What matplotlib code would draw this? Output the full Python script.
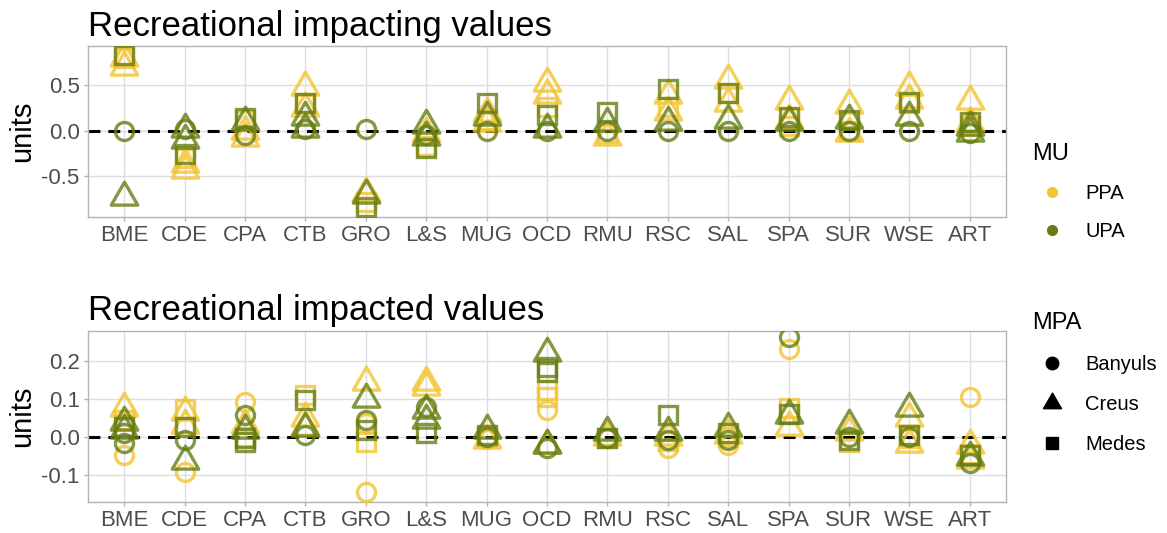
import numpy as np
import matplotlib
matplotlib.use("Agg")
import matplotlib.pyplot as plt
from matplotlib.path import Path
from matplotlib.lines import Line2D

plt.rcParams['font.family'] = ['Liberation Sans', 'DejaVu Sans']

# categories (x axis)
categories = ["BME", "CDE", "CPA", "CTB", "GRO", "L&S", "MUG", "OCD",
              "RMU", "RSC", "SAL", "SPA", "SUR", "WSE", "ART"]

# Recreational impacting values, one list of points per category
top_ppa_banyuls = [[], [], [], [], [], [], [], [], [], [], [], [], [], [], []]
top_ppa_creus = [[0.70, 0.80], [-0.36, -0.43], [-0.08, 0.0], [0.48, 0.25], [-0.68],
                 [-0.03], [0.19, 0.08], [0.52, 0.39], [-0.07], [0.39, 0.20],
                 [0.55, 0.30], [0.32, 0.12], [0.28, -0.03], [0.48, 0.34], [0.32, 0.08]]
top_ppa_medes = [[0.80], [-0.30], [0.12], [0.30], [-0.78], [-0.17], [0.12], [0.26],
                 [-0.03], [0.26], [0.41], [0.05], [0.0], [0.30], [0.05]]
top_upa_banyuls = [[0.0], [0.02], [-0.05], [0.02], [0.02], [-0.05], [0.0], [0.0],
                   [0.0], [0.0], [0.0], [0.0], [0.0], [0.0], [-0.02]]
top_upa_creus = [[-0.72], [0.02, -0.10], [0.10], [0.15, 0.02], [-0.70], [0.06, -0.07],
                 [0.15], [0.02], [0.08], [0.10], [0.12], [0.10], [0.12], [0.15],
                 [0.04, -0.03]]
top_upa_medes = [[0.83], [-0.25], [0.14], [0.30], [-0.84], [-0.19], [0.30], [0.17],
                 [0.20], [0.46], [0.41], [0.15], [0.12], [0.31], [0.10]]

# Recreational impacted values
bot_ppa_banyuls = [[-0.048], [-0.092], [0.092], [], [0.035, -0.145], [], [-0.005],
                   [0.07], [], [-0.03], [-0.022], [0.232], [], [], [0.105]]
bot_ppa_creus = [[0.075], [0.065, 0.03], [0.03], [0.048, 0.026], [0.145], [0.145, 0.13],
                 [-0.009], [-0.022], [0.0], [0.0], [0.005], [0.026], [0.013],
                 [0.048, -0.018], [-0.022, -0.061]]
bot_ppa_medes = [[0.044], [0.072], [0.0], [0.11], [-0.013], [], [0.0], [0.123, 0.105],
                 [-0.004], [-0.01], [0.0], [0.075], [-0.013], [-0.004], [-0.045]]
bot_upa_banyuls = [[0.01, -0.016], [-0.009], [0.057], [0.004], [0.044], [0.077], [0.0],
                   [-0.03], [-0.004], [-0.009], [-0.009], [0.263], [0.0], [0.0], [-0.07]]
bot_upa_creus = [[0.04, 0.018], [-0.065], [0.018], [0.022], [0.10], [0.07, 0.044],
                 [0.018], [0.22, -0.022], [0.013], [0.013], [0.022], [0.057], [0.03],
                 [0.075], [-0.053]]
bot_upa_medes = [[0.026], [0.026], [-0.004, -0.013], [0.096], [0.018], [0.009], [0.004],
                 [0.184, 0.17], [-0.004], [0.057], [0.009], [0.061], [-0.009], [0.004],
                 [-0.048]]

mu_colors = {"PPA": "#F2C431", "UPA": "#667D12"}
tri = Path([(-1, -0.577), (1, -0.577), (0, 1.155), (-1, -0.577)],
           [Path.MOVETO, Path.LINETO, Path.LINETO, Path.CLOSEPOLY])
mpa_marker = {"Banyuls": ("o", 13), "Creus": (tri, 22), "Medes": ("s", 13)}

fig = plt.figure(figsize=(11.67, 5.33), dpi=100)
ax1 = fig.add_axes([88/1167, 1-217/533, 918/1167, 171/533])
ax2 = fig.add_axes([88/1167, 1-501.7/533, 918/1167, 171/533])


def draw_panel(ax, groups, ylim, yticks, title, ty):
    x = np.arange(len(categories))
    ax.axhline(0, color="black", lw=2.2, ls=(0, (3.9, 2.6)), zorder=2)
    for mu, mpa, vals in groups:
        m, ms = mpa_marker[mpa]
        for i, v in enumerate(vals):
            if len(v) == 0:
                continue
            ax.plot([x[i]] * len(v), v, ls="none", marker=m, ms=ms,
                    mfc="none", mec=mu_colors[mu], mew=2.4, alpha=0.8, zorder=3)
    ax.set_xlim(-0.6, len(categories) - 0.4)
    ax.set_ylim(*ylim)
    ax.set_xticks(x)
    ax.set_xticklabels(categories)
    ax.set_yticks(yticks)
    ax.set_yticklabels([f"{t:.1f}" for t in yticks])
    ax.grid(True, color="#DEDEDE", lw=1)
    ax.set_axisbelow(True)
    for s in ax.spines.values():
        s.set_color("#B3B3B3")
        s.set_linewidth(1)
    ax.tick_params(colors="#B3B3B3", labelcolor="#4D4D4D", labelsize=16,
                   length=3, width=1, pad=3)
    ax.set_ylabel("units", fontsize=21, labelpad=4)
    fig.text(88/1167, 1 - ty/533, title, fontsize=25, va="baseline", ha="left")


draw_panel(ax1, [("PPA", "Banyuls", top_ppa_banyuls), ("PPA", "Creus", top_ppa_creus),
                 ("PPA", "Medes", top_ppa_medes), ("UPA", "Banyuls", top_upa_banyuls),
                 ("UPA", "Creus", top_upa_creus), ("UPA", "Medes", top_upa_medes)],
           (-0.944, 0.927), [-0.5, 0.0, 0.5], "Recreational impacting values", 36)
draw_panel(ax2, [("PPA", "Banyuls", bot_ppa_banyuls), ("PPA", "Creus", bot_ppa_creus),
                 ("PPA", "Medes", bot_ppa_medes), ("UPA", "Banyuls", bot_upa_banyuls),
                 ("UPA", "Creus", bot_upa_creus), ("UPA", "Medes", bot_upa_medes)],
           (-0.171, 0.279), [-0.1, 0.0, 0.1, 0.2], "Recreational impacted values", 320)

# legends
legend_kw = dict(loc="upper left", frameon=False, fontsize=14.5, title_fontsize=17,
                 handlelength=2.0, handletextpad=0.65,
                 borderpad=0, borderaxespad=0, alignment="left")
mu_handles = [Line2D([], [], ls="none", marker="o", ms=7, color=mu_colors[k], label=k)
              for k in ["PPA", "UPA"]]
fig.legend(handles=mu_handles, title="MU", labelspacing=0.95,
           bbox_to_anchor=(1032/1167, 1 - 143/533), **legend_kw)
mpa_handles = [Line2D([], [], ls="none", marker=m, ms=s, color="black", label=k)
               for k, m, s in [("Banyuls", "o", 9), ("Creus", tri, 15), ("Medes", "s", 8.5)]]
fig.legend(handles=mpa_handles, title="MPA", labelspacing=1.05,
           bbox_to_anchor=(1032/1167, 1 - 312/533), **legend_kw)

fig.savefig("out.png", dpi=100)
